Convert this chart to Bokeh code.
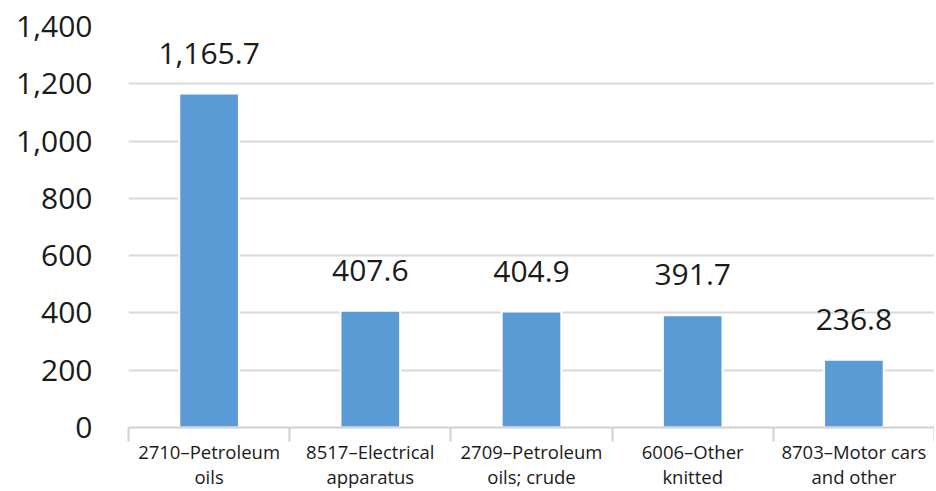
from bokeh.plotting import figure
from bokeh.models import (ColumnDataSource, Range1d, FixedTicker, NumeralTickFormatter,
                          LabelSet)
from bokeh.core.properties import value
from bokeh.embed import file_html
from bokeh.resources import INLINE

categories = ["2710\u2013Petroleum\noils", "8517\u2013Electrical\napparatus",
              "2709\u2013Petroleum\noils; crude", "6006\u2013Other\nknitted",
              "8703\u2013Motor cars\nand other"]
values = [1165.7, 407.6, 404.9, 391.7, 236.8]
value_labels = ["1,165.7", "407.6", "404.9", "391.7", "236.8"]
y_ticks = [0, 200, 400, 600, 800, 1000, 1200, 1400]

FONT = "Open Sans"
n = len(categories)
xs = [i + 0.5 for i in range(n)]

src = ColumnDataSource(dict(x=xs, top=values, lbl=value_labels))

p = figure(frame_width=806, frame_height=401, output_backend="svg", toolbar_location=None,
           x_range=Range1d(0, n), y_range=Range1d(0, 1400),
           min_border_left=128, min_border_right=0, min_border_top=26,
           min_border_bottom=10)
p.outline_line_color = None
p.background_fill_color = "white"

p.vbar(x="x", top="top", width=0.37, source=src, fill_color="#5b9bd5",
       line_color="white", line_width=2)

labels = LabelSet(x="x", y="top", text="lbl", source=src, text_align="center",
                  text_baseline="alphabetic", y_offset=30,
                  text_font=value(FONT), text_font_size="30px", text_color="#1a1a1a")
p.add_layout(labels)

# y axis
p.yaxis.ticker = FixedTicker(ticks=y_ticks)
p.yaxis.formatter = NumeralTickFormatter(format="0,0")
p.yaxis.axis_line_color = None
p.yaxis.major_tick_line_color = None
p.yaxis.minor_tick_line_color = None
p.yaxis.major_label_text_font = FONT
p.yaxis.major_label_text_font_size = "30px"
p.yaxis.major_label_text_color = "#1a1a1a"
p.yaxis.major_label_standoff = 30

p.ygrid.grid_line_color = "#d9d9d9"
p.ygrid.grid_line_width = 2
p.xgrid.grid_line_color = None

# x axis: labels at centers, separators as minor ticks at boundaries
p.xaxis.ticker = FixedTicker(ticks=xs, minor_ticks=list(range(n + 1)))
p.xaxis.major_label_overrides = {x: c for x, c in zip(xs, categories)}
p.xaxis.major_tick_line_color = None
p.xaxis.minor_tick_out = 14
p.xaxis.minor_tick_in = 0
p.xaxis.minor_tick_line_color = "#d0d0d0"
p.xaxis.minor_tick_line_width = 2
p.xaxis.axis_line_color = "#d0d0d0"
p.xaxis.axis_line_width = 2
p.xaxis.major_label_text_font = FONT
p.xaxis.major_label_text_font_size = "18.5px"
p.xaxis.major_label_text_color = "#1a1a1a"
p.xaxis.major_label_standoff = -3
p.xaxis.major_label_text_line_height = 1.0

open("out.html", "w").write(file_html(p, INLINE))
